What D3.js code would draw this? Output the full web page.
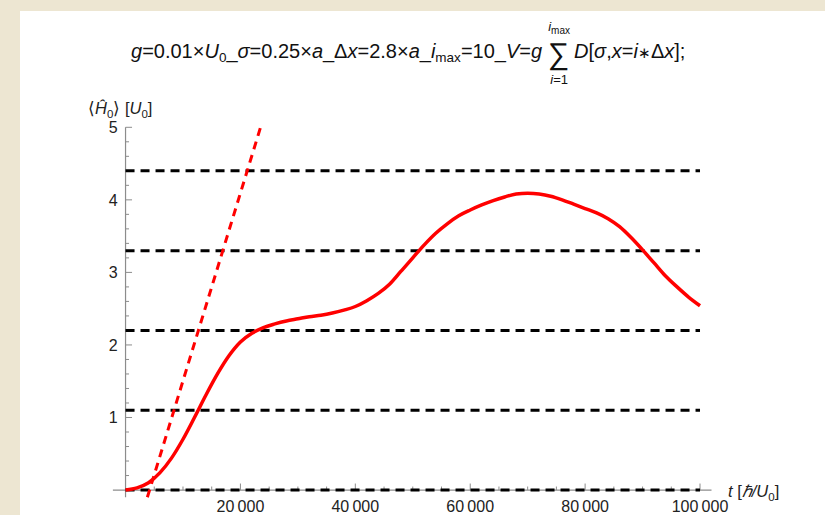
<!DOCTYPE html>
<html>
<head>
<meta charset="utf-8">
<script src="https://cdn.jsdelivr.net/npm/d3@7"></script>
<style>
  html, body { margin: 0; padding: 0; background: #EDE6D2; }
  svg { display: block; }
  text { font-family: "Liberation Sans", Arial, sans-serif; }
</style>
</head>
<body>
<svg id="chart" width="825" height="515"></svg>
<script>
// Energy expectation value vs time (solid), early linear growth (dashed)
const timeValues = [0, 2000, 4000, 6000, 8000, 10000, 12000, 14000, 16000, 18000,
  20000, 22000, 24000, 26000, 28000, 30000, 32000, 34000, 36000, 38000,
  40000, 42000, 44000, 46000, 48000, 50000, 52000, 54000, 56000, 58000,
  60000, 62000, 64000, 66000, 68000, 70000, 72000, 74000, 76000, 78000,
  80000, 82000, 84000, 86000, 88000, 90000, 92000, 94000, 96000, 98000, 100000];
const energyValues = [0, 0.03, 0.10, 0.24, 0.44, 0.70, 1.00, 1.31, 1.60, 1.85,
  2.04, 2.16, 2.24, 2.29, 2.33, 2.36, 2.39, 2.41, 2.44, 2.48,
  2.53, 2.61, 2.71, 2.84, 3.02, 3.20, 3.38, 3.54, 3.67, 3.78,
  3.86, 3.93, 3.99, 4.04, 4.08, 4.09, 4.08, 4.05, 4.00, 3.94,
  3.88, 3.82, 3.74, 3.63, 3.48, 3.31, 3.13, 2.95, 2.80, 2.66, 2.54];
const linearTimes = [3800, 23500];
const linearEnergies = [-0.1, 5];
const levelValues = [0, 1.1, 2.2, 3.3, 4.4];
const xTickValues = [20000, 40000, 60000, 80000, 100000];
const xTickLabels = ["20\u2009000", "40\u2009000", "60\u2009000", "80\u2009000", "100\u2009000"];
const yTickValues = [1, 2, 3, 4, 5];
const yTickLabels = ["1", "2", "3", "4", "5"];

const svg = d3.select("#chart");

// white panel
svg.append("rect").attr("x", 20).attr("y", 11)
  .attr("width", 805).attr("height", 504).attr("fill", "#ffffff");

const x = d3.scaleLinear().domain([-2200, 102000]).range([112.9, 711.5]);
const y = d3.scaleLinear().domain([-0.1, 5]).range([497.3, 127.3]);
const tMax = 100000;

const axisColor = "#8c8c8c";
const labelColor = "#222";
const tickFont = 16;

// x axis (drawn at y = 0)
const gx = svg.append("g").attr("transform", `translate(0,${y(0)})`);
gx.append("line").attr("x1", x.range()[0]).attr("x2", x.range()[1])
  .attr("stroke", axisColor).attr("stroke-width", 1.2);
const xMinor = d3.range(5000, 100001, 5000).filter(v => v % 20000 !== 0);
gx.selectAll("line.minor").data(xMinor).join("line").attr("class", "minor")
  .attr("x1", d => x(d)).attr("x2", d => x(d)).attr("y1", 0).attr("y2", -3.5)
  .attr("stroke", axisColor).attr("stroke-width", 1);
gx.selectAll("line.major").data(xTickValues).join("line").attr("class", "major")
  .attr("x1", d => x(d)).attr("x2", d => x(d)).attr("y1", 0).attr("y2", -6.5)
  .attr("stroke", axisColor).attr("stroke-width", 1);
gx.selectAll("text").data(xTickValues).join("text")
  .attr("x", d => x(d)).attr("y", 21.5)
  .attr("text-anchor", "middle").attr("font-size", tickFont).attr("fill", labelColor)
  .text((d, i) => xTickLabels[i]);

// y axis (drawn at t = 0)
const gy = svg.append("g").attr("transform", `translate(${x(0)},0)`);
gy.append("line").attr("y1", y.range()[0]).attr("y2", y.range()[1])
  .attr("stroke", axisColor).attr("stroke-width", 1.2);
const yMinor = d3.range(1, 25).map(k => k * 0.2).filter(v => Math.abs(v - Math.round(v)) > 1e-6);
gy.selectAll("line.minor").data(yMinor).join("line").attr("class", "minor")
  .attr("y1", d => y(d)).attr("y2", d => y(d)).attr("x1", 0).attr("x2", 3.5)
  .attr("stroke", axisColor).attr("stroke-width", 1);
gy.selectAll("line.major").data(yTickValues).join("line").attr("class", "major")
  .attr("y1", d => y(d)).attr("y2", d => y(d)).attr("x1", 0).attr("x2", 6.5)
  .attr("stroke", axisColor).attr("stroke-width", 1);
gy.selectAll("text").data(yTickValues).join("text")
  .attr("x", -8).attr("y", d => y(d)).attr("dy", "0.36em")
  .attr("text-anchor", "end").attr("font-size", tickFont).attr("fill", labelColor)
  .text((d, i) => yTickLabels[i]);

// horizontal reference levels
svg.append("g").selectAll("line").data(levelValues).join("line")
  .attr("x1", x(0)).attr("x2", x(tMax))
  .attr("y1", d => y(d)).attr("y2", d => y(d))
  .attr("stroke", "#000").attr("stroke-width", 3)
  .attr("stroke-dasharray", "9,6");

// energy curve
const curve = timeValues.map((t, i) => [t, energyValues[i]]);
svg.append("path").datum(curve)
  .attr("d", d3.line().x(d => x(d[0])).y(d => y(d[1])).curve(d3.curveMonotoneX))
  .attr("fill", "none").attr("stroke", "#ff0000").attr("stroke-width", 3.5)
  .attr("stroke-linejoin", "round");

// linear growth guide
const guide = linearTimes.map((t, i) => [t, linearEnergies[i]]);
svg.append("path").datum(guide)
  .attr("d", d3.line().x(d => x(d[0])).y(d => y(d[1])))
  .attr("fill", "none").attr("stroke", "#ff0000").attr("stroke-width", 3)
  .attr("stroke-dasharray", "8,6");

function part(sel, s, italic) {
  const ts = sel.append("tspan").text(s);
  if (italic) ts.attr("font-style", "italic");
  return ts;
}

// axis titles
const yl = svg.append("text").attr("x", 88).attr("y", 114)
  .attr("font-size", 16.5).attr("fill", labelColor);
part(yl, "\u27E8");
part(yl, "\u0124", true);
yl.append("tspan").attr("font-size", 11.5).attr("dy", 4).text("0");
yl.append("tspan").attr("dy", -4).text("\u27E9 [");
part(yl, "U", true);
yl.append("tspan").attr("font-size", 11.5).attr("dy", 4).text("0");
yl.append("tspan").attr("dy", -4).text("]");

const xl = svg.append("text").attr("x", 728).attr("y", 497)
  .attr("font-size", 16.5).attr("fill", labelColor);
part(xl, "t", true);
part(xl, " [");
part(xl, "\u210F/U", true);
xl.append("tspan").attr("font-size", 11.5).attr("dy", 4).text("0");
xl.append("tspan").attr("dy", -4).text("]");

// title
const titleSize = 20, subSize = 13.5;
const t1 = svg.append("text").attr("x", 131).attr("y", 58)
  .attr("font-size", titleSize).attr("fill", "#111");
part(t1, "g", true); part(t1, "=0.01\u00D7"); part(t1, "U", true);
t1.append("tspan").attr("font-size", subSize).attr("dy", 4).text("0");
t1.append("tspan").attr("dy", -4).text("_");
part(t1, "\u03C3", true); part(t1, "=0.25\u00D7"); part(t1, "a", true); part(t1, "_\u0394");
part(t1, "x", true); part(t1, "=2.8\u00D7"); part(t1, "a", true); part(t1, "_");
part(t1, "i", true);
t1.append("tspan").attr("font-size", subSize).attr("dy", 4).text("max");
t1.append("tspan").attr("dy", -4).text("=10_");
part(t1, "V", true); part(t1, "="); part(t1, "g", true);

const tw = t1.node().getComputedTextLength();
const sumX = 131 + tw + 6;
svg.append("text").attr("x", sumX).attr("y", 64).attr("font-size", 30)
  .attr("fill", "#111").text("\u2211");
const sumMid = sumX + 11;
const sup = svg.append("text").attr("x", sumMid).attr("y", 31).attr("text-anchor", "middle")
  .attr("font-size", 13).attr("fill", "#111");
part(sup, "i", true);
sup.append("tspan").attr("font-size", 10).attr("dy", 3).text("max");
const sub = svg.append("text").attr("x", sumMid).attr("y", 84).attr("text-anchor", "middle")
  .attr("font-size", 13).attr("fill", "#111");
part(sub, "i", true); part(sub, "=1");

const t2 = svg.append("text").attr("x", sumX + 26).attr("y", 58)
  .attr("font-size", titleSize).attr("fill", "#111");
part(t2, "D", true); part(t2, "["); part(t2, "\u03C3", true); part(t2, ",");
part(t2, "x", true); part(t2, "="); part(t2, "i", true);
t2.append("tspan").attr("font-size", 15).text("\u2217");
part(t2, "\u0394"); part(t2, "x", true); part(t2, "];");
</script>
</body>
</html>
